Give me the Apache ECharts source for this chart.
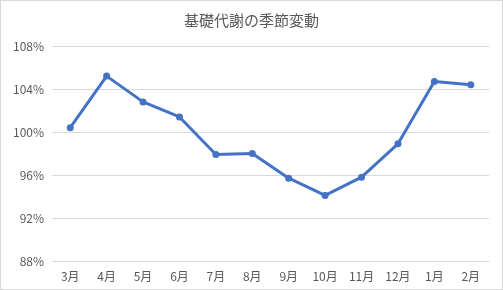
<!DOCTYPE html>
<html><head><meta charset="utf-8">
<script src="https://cdn.jsdelivr.net/npm/echarts@6/dist/echarts.min.js"></script>
<style>
html,body{margin:0;padding:0;background:#fff;}
#c{width:503px;height:290px;box-sizing:border-box;border:1px solid #d9d9d9;}
</style></head>
<body><div id="c"></div>
<script>
const titleText = '基礎代謝の季節変動';
const months = ['3月','4月','5月','6月','7月','8月','9月','10月','11月','12月','1月','2月'];
const values = [100.4, 105.2, 102.8, 101.4, 97.9, 98.0, 95.7, 94.1, 95.8, 98.9, 104.7, 104.4];
const yMin = 88, yMax = 108, yStep = 4;

const chart = echarts.init(document.getElementById('c'));
const font = '"Noto Sans CJK JP", "Noto Sans", sans-serif';
chart.setOption({
  animation: false,
  title: {text: titleText, left: 'center', top: 7,
    textStyle: {fontFamily: font, fontSize: 15, fontWeight: 'normal', color: '#595959'}},
  grid: {left: 51, right: 13, top: 45, bottom: 28},
  xAxis: {type: 'category', data: months, boundaryGap: true,
    axisLine: {lineStyle: {color: '#d9d9d9'}}, axisTick: {show: false},
    axisLabel: {fontFamily: font, fontSize: 12, color: '#595959', margin: 9}},
  yAxis: {type: 'value', min: yMin, max: yMax, interval: yStep,
    axisLine: {show: false}, axisTick: {show: false},
    splitLine: {lineStyle: {color: '#d9d9d9'}},
    axisLabel: {formatter: '{value}%', fontFamily: font, fontSize: 12, color: '#595959', margin: 8}},
  series: [{type: 'line', data: values, symbol: 'circle', symbolSize: 7,
    lineStyle: {color: '#4472C4', width: 3}, itemStyle: {color: '#4472C4'}}]
});
</script></body></html>
